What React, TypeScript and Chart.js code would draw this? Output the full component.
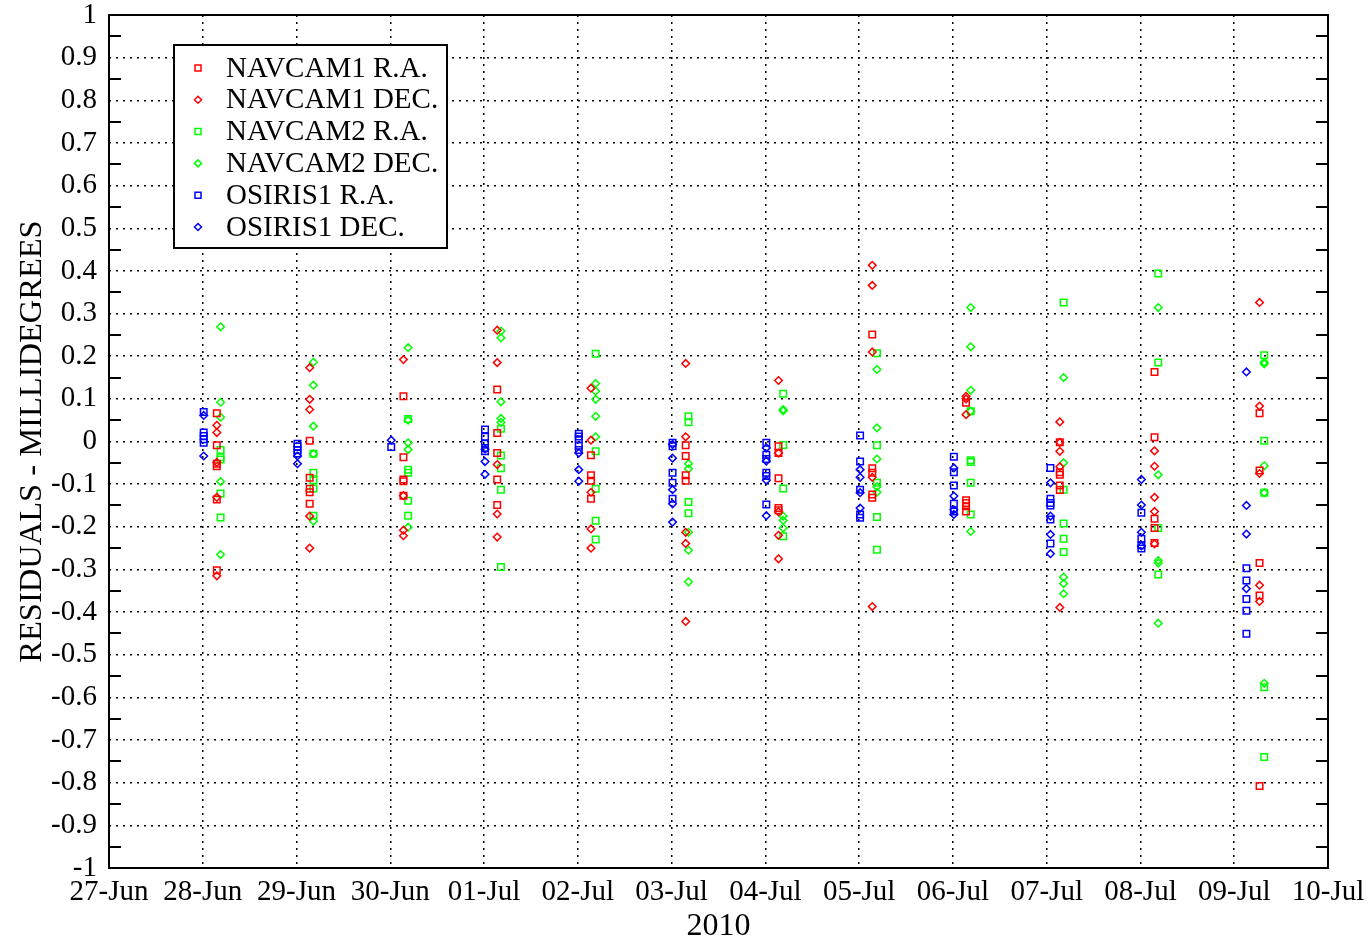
import React, { useEffect, useRef } from 'react';
import { Chart, registerables } from 'chart.js';

Chart.register(...registerables);

const tickLabels = ['27-Jun', '28-Jun', '29-Jun', '30-Jun', '01-Jul', '02-Jul', '03-Jul', '04-Jul', '05-Jul', '06-Jul', '07-Jul', '08-Jul', '09-Jul', '10-Jul'];
// observation days are tick indexes 1..12 (28-Jun .. 09-Jul)
const redOffset = [0.15, 0.14, 0.14, 0.14, 0.14, 0.15, 0.14, 0.14, 0.14, 0.14, 0.15, 0.27];
const greenOffset = [0.19, 0.18, 0.19, 0.18, 0.19, 0.18, 0.19, 0.19, 0.19, 0.18, 0.19, 0.32];
const blueOffset = [0.01, 0.01, 0.01, 0.01, 0.01, 0.01, 0.01, 0.01, 0.01, 0.04, 0.01, 0.13];

const navcam1RA = [
  [0.066, -0.009, -0.052, -0.058, -0.136, -0.302],
  [0.002, -0.085, -0.111, -0.119, -0.146],
  [0.106, -0.037, -0.089, -0.093, -0.127],
  [0.122, 0.020, -0.027, -0.089, -0.149],
  [-0.032, -0.079, -0.092, -0.134],
  [-0.009, -0.034, -0.079, -0.092],
  [-0.011, -0.027, -0.086, -0.156, -0.161],
  [0.251, -0.063, -0.073, -0.124, -0.132],
  [0.091, -0.138, -0.144, -0.152, -0.164],
  [-0.002, -0.072, -0.078, -0.103, -0.114],
  [0.163, 0.010, -0.181, -0.203, -0.238],
  [0.066, -0.068, -0.285, -0.361, -0.808],
];
const navcam1DEC = [
  [0.038, 0.021, -0.049, -0.131, -0.315],
  [0.173, 0.099, 0.075, -0.175, -0.250],
  [0.192, -0.127, -0.208, -0.221],
  [0.261, 0.185, -0.054, -0.170, -0.224],
  [0.125, 0.003, -0.119, -0.205, -0.250],
  [0.183, 0.011, -0.213, -0.239, -0.422],
  [0.143, -0.027, -0.165, -0.220, -0.275],
  [0.413, 0.366, 0.210, -0.084, -0.387],
  [0.106, 0.100, 0.063],
  [0.046, -0.002, -0.023, -0.059, -0.389],
  [-0.022, -0.058, -0.131, -0.164, -0.240],
  [0.326, 0.083, -0.075, -0.337, -0.375],
];
const navcam2RA = [
  [-0.020, -0.037, -0.042, -0.122, -0.178],
  [-0.029, -0.073, -0.091, -0.110, -0.174],
  [0.053, -0.066, -0.073, -0.139, -0.174],
  [0.030, -0.033, -0.063, -0.113, -0.294],
  [0.206, -0.023, -0.111, -0.186, -0.230],
  [0.059, 0.045, -0.142, -0.168],
  [0.112, -0.008, -0.110, -0.222],
  [0.207, -0.009, -0.097, -0.177, -0.254],
  [0.071, -0.044, -0.048, -0.097, -0.171],
  [0.326, -0.113, -0.192, -0.228, -0.259],
  [0.394, 0.185, -0.203, -0.312],
  [0.202, 0.002, -0.120, -0.576, -0.740],
];
const navcam2DEC = [
  [0.269, 0.092, 0.057, -0.094, -0.265],
  [0.186, 0.132, 0.036, -0.029, -0.187],
  [0.220, 0.050, -0.003, -0.019, -0.201],
  [0.259, 0.243, 0.093, 0.054, 0.045],
  [0.136, 0.118, 0.099, 0.059, 0.011],
  [-0.052, -0.064, -0.213, -0.255, -0.329],
  [0.075, 0.072, -0.175, -0.185, -0.203],
  [0.169, 0.032, -0.041, -0.106, -0.119],
  [0.314, 0.222, 0.120, 0.071, -0.211],
  [0.150, -0.050, -0.318, -0.333, -0.357],
  [0.314, -0.078, -0.279, -0.285, -0.426],
  [0.186, 0.182, -0.057, -0.120, -0.567],
];
const osiris1RA = [
  [0.069, 0.021, 0.013, 0.005, -0.003],
  [-0.005, -0.012, -0.020, -0.028],
  [-0.013],
  [0.028, 0.011, -0.005, -0.015, -0.023],
  [0.018, 0.012, 0.005, -0.010, -0.020],
  [-0.003, -0.011, -0.073, -0.097, -0.134],
  [-0.003, -0.031, -0.041, -0.073, -0.081, -0.148],
  [0.014, -0.047, -0.113, -0.171, -0.179],
  [-0.036, -0.072, -0.103, -0.146, -0.164],
  [-0.062, -0.134, -0.144, -0.150, -0.183, -0.239],
  [-0.167, -0.228, -0.243, -0.251],
  [-0.297, -0.326, -0.369, -0.397, -0.451],
];
const osiris1DEC = [
  [0.061, -0.034],
  [-0.034, -0.052],
  [0.003],
  [-0.018, -0.047, -0.077],
  [-0.027, -0.066, -0.093],
  [-0.007, -0.039, -0.113, -0.146, -0.189],
  [-0.015, -0.046, -0.091, -0.174],
  [-0.066, -0.084, -0.120, -0.156],
  [-0.062, -0.128, -0.160, -0.171],
  [-0.097, -0.175, -0.218, -0.263],
  [-0.089, -0.149, -0.213, -0.245],
  [0.163, -0.150, -0.217, -0.345],
];

const FONT = '"Liberation Serif", "Times New Roman", serif';

function toPoints(groups: number[][], offsets: number[]) {
  return groups.flatMap((vals, i) => vals.map((v) => ({ x: i + 1 + offsets[i], y: v })));
}

const frameAndLegend = {
  id: 'frameAndLegend',
  beforeDatasetsDraw(chart: any) {
    const { ctx, chartArea } = chart;
    const { left, right, top, bottom } = chartArea;
    const y = chart.scales.y;
    ctx.save();
    ctx.strokeStyle = '#000';
    ctx.lineWidth = 2;
    ctx.setLineDash([]);
    ctx.strokeRect(left, top, right - left, bottom - top);
    ctx.beginPath();
    for (let k = -19; k <= 19; k += 2) {
      const py = Math.round(y.getPixelForValue(k * 0.05));
      ctx.moveTo(left, py);
      ctx.lineTo(left + 12, py);
      ctx.moveTo(right - 12, py);
      ctx.lineTo(right, py);
    }
    ctx.stroke();
    ctx.restore();
  },
  afterDraw(chart: any) {
    const { ctx } = chart;
    const bx = 174, by = 45, bw = 273, bh = 203;
    ctx.save();
    ctx.fillStyle = '#fff';
    ctx.fillRect(bx, by, bw, bh);
    ctx.strokeStyle = '#000';
    ctx.lineWidth = 2;
    ctx.strokeRect(bx, by, bw, bh);
    ctx.font = `29px ${FONT}`;
    ctx.textBaseline = 'middle';
    ctx.textAlign = 'left';
    chart.data.datasets.forEach((ds: any, i: number) => {
      const cy = 68 + i * 31.8;
      const cx = 198;
      ctx.strokeStyle = ds.borderColor;
      ctx.lineWidth = 1.5;
      ctx.beginPath();
      if (ds.pointStyle === 'rect') {
        ctx.rect(cx - 3, cy - 3, 6, 6);
      } else {
        ctx.moveTo(cx - 3.5, cy);
        ctx.lineTo(cx, cy - 3.5);
        ctx.lineTo(cx + 3.5, cy);
        ctx.lineTo(cx, cy + 3.5);
        ctx.closePath();
      }
      ctx.stroke();
      ctx.fillStyle = '#000';
      ctx.fillText(ds.label, 226, cy + 1);
    });
    ctx.restore();
  },
};

export default function App() {
  const ref = useRef<HTMLCanvasElement | null>(null);
  useEffect(() => {
    if (!ref.current) return;
    const mk = (label: string, data: any[], color: string, style: string) => ({
      label,
      data,
      showLine: false,
      pointStyle: style,
      pointRadius: style === 'rect' ? 4.6 : 3.8,
      pointBorderWidth: 1.5,
      borderColor: color,
      backgroundColor: 'rgba(0,0,0,0)',
      pointBackgroundColor: 'rgba(0,0,0,0)',
    });
    const chart = new Chart(ref.current, {
      type: 'scatter',
      data: {
        datasets: [
          mk('NAVCAM1 R.A.', toPoints(navcam1RA, redOffset), '#ff0000', 'rect'),
          mk('NAVCAM1 DEC.', toPoints(navcam1DEC, redOffset), '#ff0000', 'rectRot'),
          mk('NAVCAM2 R.A.', toPoints(navcam2RA, greenOffset), '#00ff00', 'rect'),
          mk('NAVCAM2 DEC.', toPoints(navcam2DEC, greenOffset), '#00ff00', 'rectRot'),
          mk('OSIRIS1 R.A.', toPoints(osiris1RA, blueOffset), '#0000ff', 'rect'),
          mk('OSIRIS1 DEC.', toPoints(osiris1DEC, blueOffset), '#0000ff', 'rectRot'),
        ] as any,
      },
      options: {
        animation: false,
        responsive: false,
        devicePixelRatio: 1,
        layout: { padding: { top: 15, right: 43, left: 0, bottom: 0 } },
        plugins: { legend: { display: false }, tooltip: { enabled: false } },
        scales: {
          x: {
            type: 'linear',
            min: 0,
            max: 13,
            afterFit: (s: any) => { s.height = 72; s.paddingLeft = 0; s.paddingRight = 0; },
            ticks: {
              stepSize: 1,
              autoSkip: false,
              maxRotation: 0,
              minRotation: 0,
              padding: 10,
              color: '#000',
              font: { family: FONT, size: 29, lineHeight: 1 },
              callback: (v: any) => tickLabels[Math.round(Number(v))] ?? '',
            },
            grid: { color: '#000', lineWidth: 1.5, drawTicks: false },
            border: { display: false, dash: [2, 5] },
            title: {
              display: true,
              text: '2010',
              color: '#000',
              font: { family: FONT, size: 32, lineHeight: 1 },
              padding: { top: 0, bottom: -3 },
            },
          },
          y: {
            type: 'linear',
            min: -1,
            max: 1,
            afterFit: (s: any) => { s.width = 109; s.paddingTop = 0; s.paddingBottom = 0; },
            ticks: {
              stepSize: 0.1,
              padding: 12,
              color: '#000',
              font: { family: FONT, size: 29, lineHeight: 1 },
              callback: (v: any) => String(Number(Number(v).toFixed(1))),
            },
            grid: { color: '#000', lineWidth: 1.5, drawTicks: false },
            border: { display: false, dash: [2, 5] },
            title: {
              display: true,
              text: 'RESIDUALS - MILLIDEGREES',
              color: '#000',
              font: { family: FONT, size: 32.5, lineHeight: 1.2 },
              padding: { top: 13, bottom: 0 },
            },
          },
        },
      } as any,
      plugins: [frameAndLegend],
    });
    return () => chart.destroy();
  }, []);
  return (
    <div style={{ position: 'fixed', left: 0, top: 0, width: 1371, height: 940, background: '#fff' }}>
      <canvas ref={ref} width={1371} height={940} style={{ width: 1371, height: 940, display: 'block' }} />
    </div>
  );
}
